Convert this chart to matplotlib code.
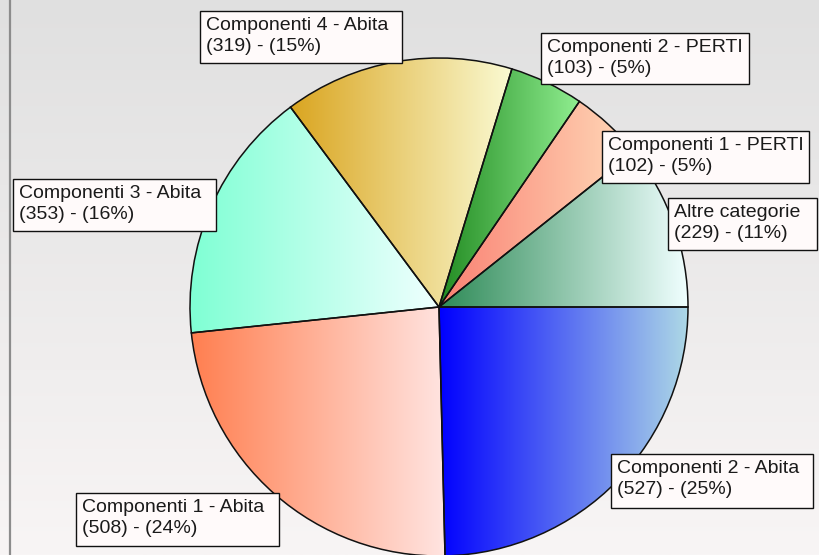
import numpy as np
import matplotlib
matplotlib.use("Agg")
import matplotlib.pyplot as plt
import matplotlib.patches as patches
from matplotlib.colors import LinearSegmentedColormap

# slices, counterclockwise from 3 o'clock
categories = ["Altre categorie", "Componenti 1 - PERTI", "Componenti 2 - PERTI",
              "Componenti 4 - Abita", "Componenti 3 - Abita", "Componenti 1 - Abita",
              "Componenti 2 - Abita"]
counts = [229, 102, 103, 319, 353, 508, 527]
percents = [11, 5, 5, 15, 16, 24, 25]

# gradient colours per slice: left -> right
grad_colors = [("#2e8b57", "#f0ffff"), ("#fa8072", "#ffdab9"), ("#228b22", "#90ee90"),
               ("#daa520", "#fafad2"), ("#7fffd4", "#f0ffff"), ("#ff7f50", "#ffe4e1"),
               ("#0000ff", "#add8e6")]

# label boxes in pixels: left, top, right, bottom
label_boxes = [(668, 198, 817, 250), (602, 131, 809, 183), (541, 33, 749, 84),
               (200, 11, 402, 63), (13, 179, 216, 231), (76, 493, 279, 546),
               (611, 454, 813, 508)]

W, H = 819, 555
fig = plt.figure(figsize=(W / 100, H / 100), dpi=100)
ax = fig.add_axes([0, 0, 1, 1])

# background
bg = LinearSegmentedColormap.from_list("bg", ["#e0e0e0", "#f8f5f5"])
ax.imshow(np.linspace(0, 1, 256).reshape(-1, 1), cmap=bg, extent=(0, W, H, 0),
          aspect="auto", zorder=0)
ax.plot([9.5, 9.5], [0, H], color="#8c8c8c", lw=1.6, zorder=1)

wedges, _ = ax.pie(counts, radius=249, center=(439, 307), counterclock=False,
                   startangle=0,
                   wedgeprops=dict(edgecolor="#111111", linewidth=1.1, facecolor="none"))

grad = np.linspace(0, 1, 256).reshape(1, -1)
for w, (c0, c1) in zip(wedges, grad_colors):
    w.set_zorder(3)
    ext = w.get_path().get_extents()
    cm = LinearSegmentedColormap.from_list("g", [c0, c1])
    im = ax.imshow(grad, cmap=cm, extent=(ext.x0, ext.x1, ext.y1, ext.y0),
                   aspect="auto", zorder=2, interpolation="bilinear")
    im.set_clip_path(w)

for name, n, p, (l, t, r, b) in zip(categories, counts, percents, label_boxes):
    ax.add_patch(patches.Rectangle((l, t), r - l, b - t, facecolor="#fffafa",
                                   edgecolor="#111111", linewidth=1.0, zorder=5))
    ax.text(l + 6, t + 6, f"{name}\n({n}) - ({p}%)", ha="left", va="top",
            fontsize=14.0, family="Liberation Sans", linespacing=1.3,
            color="#1a1a1a", zorder=6)

ax.set_xlim(0, W)
ax.set_ylim(H, 0)
ax.set_aspect("auto")
ax.axis("off")

fig.savefig("out.png", dpi=100)
